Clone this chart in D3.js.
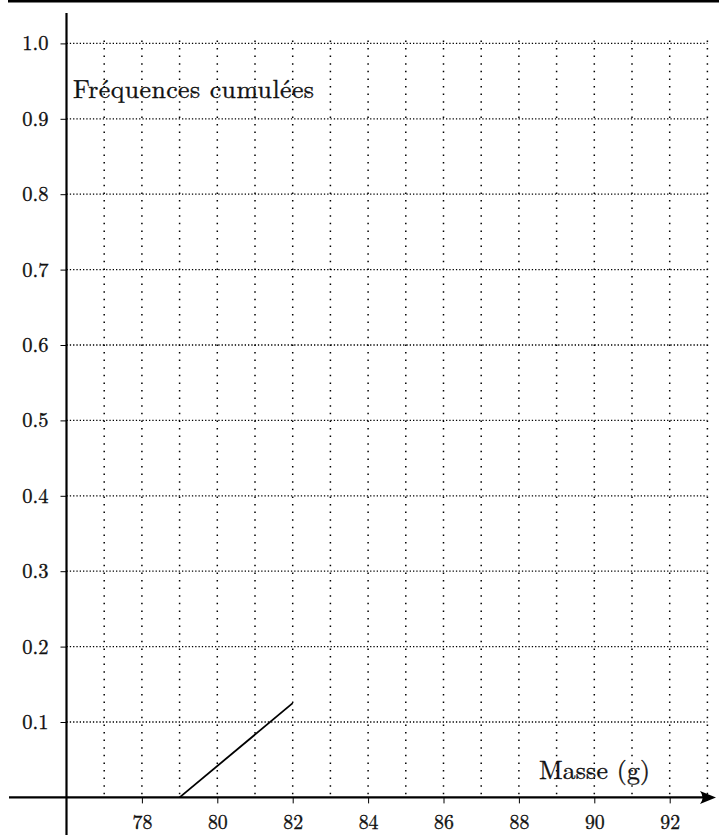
<!DOCTYPE html>
<html>
<head>
<meta charset="utf-8">
<script src="https://cdn.jsdelivr.net/npm/d3@7"></script>
<style>
  html, body { margin: 0; padding: 0; background: #fff; }
  svg { display: block; }
  text { font-family: "Latin Modern Roman", "Liberation Serif", serif; fill: #111; stroke: #111; stroke-width: 0.35px; }
</style>
</head>
<body>
<svg id="chart" width="719" height="835"></svg>
<script>
// ---- data ----
const xTicks = [78, 80, 82, 84, 86, 88, 90, 92];
const xGrid = [77, 78, 79, 80, 81, 82, 83, 84, 85, 86, 87, 88, 89, 90, 91, 92, 93];
const yTicks = [0.1, 0.2, 0.3, 0.4, 0.5, 0.6, 0.7, 0.8, 0.9, 1.0];
const masses = [79, 82];
const cumFreq = [0, 0.125];
const xLabel = "Masse (g)";
const yLabel = "Fréquences cumulées";

const FONT = '"Latin Modern Roman", "Liberation Serif", serif';

// ---- scales ----
const svg = d3.select("#chart");
const x = d3.scaleLinear().domain([76, 93]).range([66.5, 707.4]);
const y = d3.scaleLinear().domain([0, 1]).range([797.4, 43.4]);

// top border
svg.append("line").attr("x1", 8).attr("x2", 719).attr("y1", 1.2).attr("y2", 1.2)
  .attr("stroke", "#000").attr("stroke-width", 2.6);

// grid: horizontal dotted
svg.append("g").selectAll("line").data(yTicks).join("line")
  .attr("x1", x(76)).attr("x2", x(93))
  .attr("y1", d => y(d)).attr("y2", d => y(d))
  .attr("stroke", "#000").attr("stroke-width", 1.3)
  .attr("stroke-dasharray", "1.3,2");

// grid: vertical dotted
svg.append("g").selectAll("line").data(xGrid).join("line")
  .attr("x1", d => x(d)).attr("x2", d => x(d))
  .attr("y1", y(1) - 3).attr("y2", y(0) - 2)
  .attr("stroke", "#000").attr("stroke-width", 1.5)
  .attr("stroke-dasharray", "1.5,6.1");

// x axis ticks + labels
const gx = svg.append("g").attr("transform", `translate(0,${y(0)})`)
  .call(d3.axisBottom(x).tickValues(xTicks).tickSize(6).tickPadding(12).tickFormat(d3.format("d")));
gx.attr("font-family", FONT);
gx.select(".domain").remove();
gx.selectAll(".tick line").attr("stroke", "#000").attr("stroke-width", 1);
gx.selectAll(".tick text").attr("font-size", 19.8).attr("font-family", FONT).attr("fill", "#111");

// y axis ticks + labels
const gy = svg.append("g").attr("transform", `translate(${x(76)},0)`)
  .call(d3.axisLeft(y).tickValues(yTicks).tickSize(6).tickPadding(12).tickFormat(d3.format(".1f")));
gy.attr("font-family", FONT);
gy.select(".domain").remove();
gy.selectAll(".tick line").attr("stroke", "#000").attr("stroke-width", 1);
gy.selectAll(".tick text").attr("font-size", 20.5).attr("font-family", FONT).attr("fill", "#111");

// main axes
svg.append("line").attr("x1", 9).attr("x2", 712).attr("y1", y(0)).attr("y2", y(0))
  .attr("stroke", "#000").attr("stroke-width", 2.2);
svg.append("line").attr("x1", x(76)).attr("x2", x(76)).attr("y1", 13).attr("y2", 835)
  .attr("stroke", "#000").attr("stroke-width", 2.2);

// arrow head
const ty = y(0);
svg.append("path")
  .attr("d", `M716,${ty} L700,${ty - 6.5} Q705,${ty} 700,${ty + 6.5} Z`)
  .attr("fill", "#000");

// data line
const pts = masses.map((m, i) => [m, cumFreq[i]]);
svg.append("path")
  .datum(pts)
  .attr("d", d3.line().x(d => x(d[0])).y(d => y(d[1])))
  .attr("fill", "none").attr("stroke", "#000").attr("stroke-width", 1.8);

// axis labels
svg.append("text").attr("x", 73).attr("y", 98).attr("font-family", FONT)
  .attr("font-size", 25.8).attr("textLength", 241).attr("lengthAdjust", "spacing")
  .text(yLabel);
svg.append("text").attr("x", 539).attr("y", 778.7).attr("font-family", FONT)
  .attr("font-size", 25.8).attr("textLength", 111).attr("lengthAdjust", "spacing")
  .text(xLabel);
</script>
</body>
</html>
